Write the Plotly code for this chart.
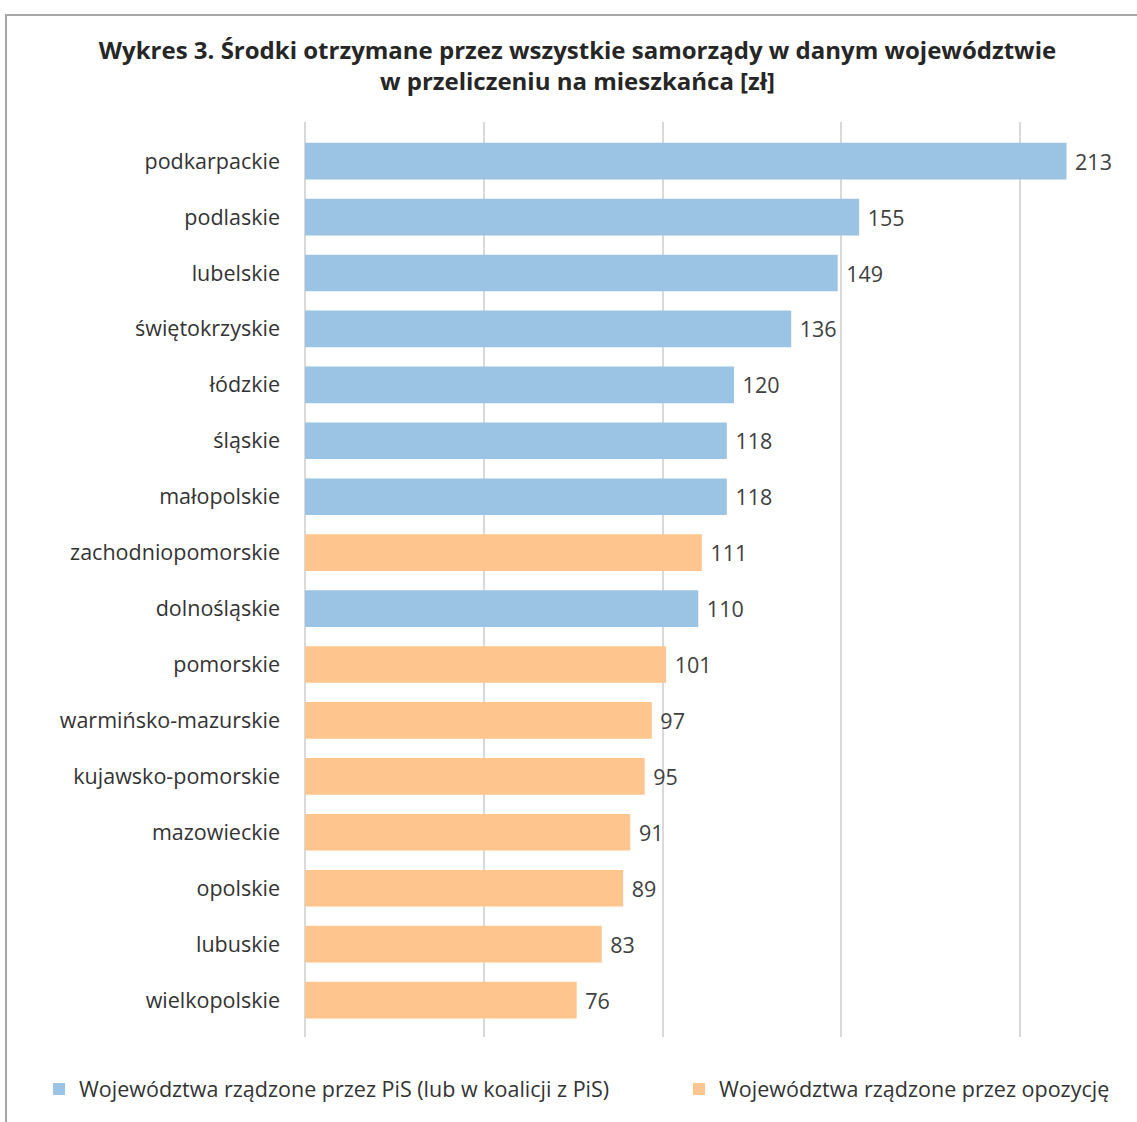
import plotly.graph_objects as go

categories = ["podkarpackie", "podlaskie", "lubelskie", "świętokrzyskie", "łódzkie",
              "śląskie", "małopolskie", "zachodniopomorskie", "dolnośląskie", "pomorskie",
              "warmińsko-mazurskie", "kujawsko-pomorskie", "mazowieckie", "opolskie",
              "lubuskie", "wielkopolskie"]

pis_regions = ["podkarpackie", "podlaskie", "lubelskie", "świętokrzyskie", "łódzkie",
               "śląskie", "małopolskie", "dolnośląskie"]
pis_values = [213, 155, 149, 136, 120, 118, 118, 110]

opp_regions = ["zachodniopomorskie", "pomorskie", "warmińsko-mazurskie", "kujawsko-pomorskie",
               "mazowieckie", "opolskie", "lubuskie", "wielkopolskie"]
opp_values = [111, 101, 97, 95, 91, 89, 83, 76]

series_names = ["Województwa rządzone przez PiS (lub w koalicji z PiS)",
                "Województwa rządzone przez opozycję"]

title_text = ("<b>Wykres 3. Środki otrzymane przez wszystkie samorządy w danym województwie"
              "<br>w przeliczeniu na mieszkańca [zł]</b>")

FONT = "Open Sans"
FS = 21.5
W, H = 1137, 1122
L, R, T, B = 305, 0, 122, 85

fig = go.Figure()
for name, regs, vals, col, leg in [(series_names[0], pis_regions, pis_values, "#9BC3E3", "legend"),
                                   (series_names[1], opp_regions, opp_values, "#FEC58E", "legend2")]:
    fig.add_trace(go.Bar(
        x=vals, y=regs, orientation="h", name=name, legend=leg,
        marker=dict(color=col, line=dict(width=0)),
        width=0.655,
        text=["\u00a0" + str(v) for v in vals], textposition="outside",
        textfont=dict(family=FONT, size=FS, color="#404040"),
        cliponaxis=False,
    ))

legend_common = dict(orientation="h", xref="container", xanchor="left",
                     yref="container", yanchor="middle", y=1 - 1089 / H,
                     font=dict(family=FONT, size=FS, color="#333333"),
                     bgcolor="rgba(0,0,0,0)")

fig.update_layout(
    width=W, height=H,
    margin=dict(l=L, r=R, t=T, b=B),
    paper_bgcolor="white", plot_bgcolor="white",
    barmode="overlay",
    font=dict(family=FONT, size=FS, color="#333333"),
    title=dict(text=title_text, x=577.5 / W, xanchor="center", xref="container",
               y=1 - 59 / H, yanchor="top", yref="container",
               font=dict(family=FONT, size=24, color="#262626")),
    xaxis=dict(range=[0, (W - L - R) / 3.575], dtick=50, tick0=0, showticklabels=False,
               showgrid=True, gridcolor="#D9D9D9", gridwidth=2,
               zeroline=True, zerolinecolor="#D9D9D9", zerolinewidth=2, fixedrange=True),
    yaxis=dict(type="category", categoryorder="array", categoryarray=categories,
               range=[15.66, -0.70], ticks="", showgrid=False,
               ticklabelstandoff=24,
               tickfont=dict(family=FONT, size=FS, color="#333333")),
    legend=dict(x=39 / W, **legend_common),
    legend2=dict(x=679 / W, **legend_common),
    showlegend=True,
    shapes=[dict(type="rect", xref="paper", yref="paper",
                 x0=(6 - L) / (W - L - R), x1=1.3,
                 y0=-0.3, y1=(H - B - 15) / (H - T - B),
                 line=dict(color="#A6A6A6", width=2), fillcolor="rgba(0,0,0,0)",
                 layer="below")],
)

fig.write_html("out.html")
